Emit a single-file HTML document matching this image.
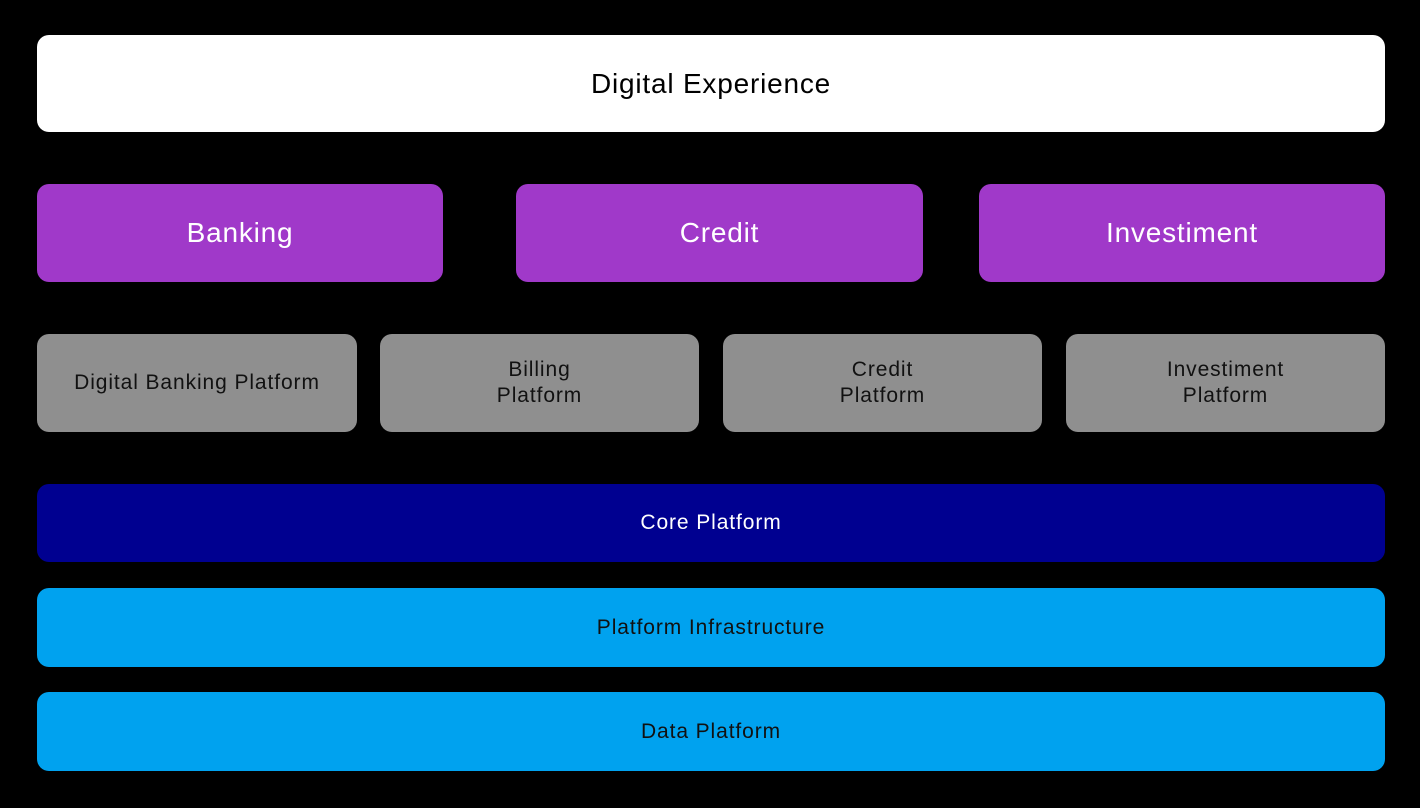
<!DOCTYPE html>
<html><head><meta charset="utf-8"><style>
html,body{margin:0;padding:0;background:#000;width:1420px;height:808px;overflow:hidden;font-family:"Liberation Sans",sans-serif;}
.b{position:absolute;display:flex;align-items:center;justify-content:center;text-align:center;border-radius:12px;box-sizing:border-box;}
.p{background:#a039c9;color:#fff;font-size:28px;letter-spacing:0.8px;}
.g{background:#8f8f8f;color:#111;font-size:21px;line-height:26px;letter-spacing:0.9px;}
.w{font-size:21px;letter-spacing:0.9px;}
</style></head><body>
<div class="b" style="left:37px;top:35px;width:1348px;height:97px;background:#fff;color:#000;font-size:28px;letter-spacing:0.8px;">Digital Experience</div>
<div class="b p" style="left:37px;top:184px;width:406px;height:98px;">Banking</div>
<div class="b p" style="left:516px;top:184px;width:407px;height:98px;">Credit</div>
<div class="b p" style="left:979px;top:184px;width:406px;height:98px;">Investiment</div>
<div class="b g" style="left:37px;top:334px;width:320px;height:98px;">Digital Banking Platform</div>
<div class="b g" style="left:380px;top:334px;width:319px;height:98px;">Billing<br>Platform</div>
<div class="b g" style="left:723px;top:334px;width:319px;height:98px;">Credit<br>Platform</div>
<div class="b g" style="left:1066px;top:334px;width:319px;height:98px;">Investiment<br>Platform</div>
<div class="b w" style="left:37px;top:484px;width:1348px;height:78px;background:#000090;color:#fff;">Core Platform</div>
<div class="b w" style="left:37px;top:588px;width:1348px;height:79px;background:#00a2ef;color:#111;">Platform Infrastructure</div>
<div class="b w" style="left:37px;top:692px;width:1348px;height:79px;background:#00a2ef;color:#111;">Data Platform</div>
</body></html>
